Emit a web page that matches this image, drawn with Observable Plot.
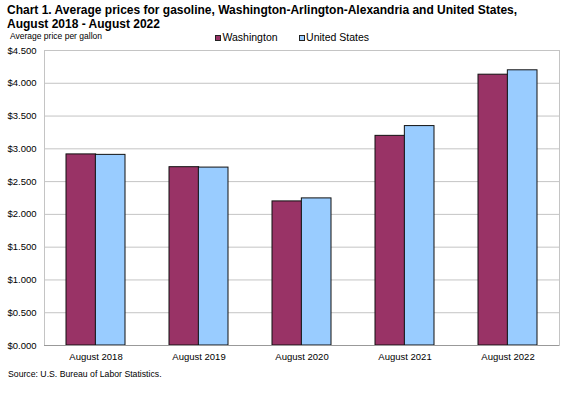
<!DOCTYPE html>
<html>
<head>
<meta charset="utf-8">
<script src="https://cdn.jsdelivr.net/npm/d3@7"></script>
<script src="https://cdn.jsdelivr.net/npm/@observablehq/plot@0.6"></script>
<style>
  html, body { margin: 0; padding: 0; background: #fff; }
  #wrap { position: relative; width: 581px; height: 395px; overflow: hidden; font-family: "Liberation Sans", Arial, sans-serif; color: #000; }
  .abs { position: absolute; white-space: nowrap; }
  #title { left: 7px; top: 3px; font-size: 12px; font-weight: bold; line-height: 14px; }
  #ylab { left: 10px; top: 31px; font-size: 8.5px; line-height: 10px; }
  #legend { left: 215px; top: 31px; font-size: 10.5px; line-height: 13px; display: flex; }
  .item { display: flex; align-items: center; }
  .sw { width: 4px; height: 4px; border: 1px solid #222; margin-right: 1.5px; }
  #chart { left: 0; top: 40px; }
  #source { left: 8px; top: 369px; font-size: 8.7px; line-height: 11px; }
</style>
</head>
<body>
<div id="wrap">
  <div id="title" class="abs">Chart 1. Average prices for gasoline, Washington-Arlington-Alexandria and United States,<br>August 2018 - August 2022</div>
  <div id="ylab" class="abs">Average price per gallon</div>
  <div id="legend" class="abs"></div>
  <div id="chart" class="abs"></div>
  <div id="source" class="abs">Source: U.S. Bureau of Labor Statistics.</div>
</div>
<script>
const categories = ["August 2018", "August 2019", "August 2020", "August 2021", "August 2022"];
const washington = [2.915, 2.720, 2.198, 3.198, 4.131];
const unitedStates = [2.908, 2.714, 2.244, 3.347, 4.198];
const seriesNames = ["Washington", "United States"];
const seriesColors = ["#993366", "#99ccff"];
const yTicks = [0, 0.5, 1, 1.5, 2, 2.5, 3, 3.5, 4, 4.5];

const data = categories.map((c, i) => ({category: c, washington: washington[i], us: unitedStates[i]}));

const W = 581, H = 330, ML = 44, MR = 22, MT = 10, MB = 25;
const paddingInner = 0.43, paddingOuter = 0.215;
const step = (W - ML - MR) / (categories.length - paddingInner + 2 * paddingOuter);
const half = step * (1 - paddingInner) / 2;

const legend = document.getElementById("legend");
seriesNames.forEach((name, i) => {
  const it = document.createElement("div");
  it.className = "item";
  it.style.marginRight = i === 0 ? "21px" : "0";
  const sw = document.createElement("span");
  sw.className = "sw";
  sw.style.background = seriesColors[i];
  const tx = document.createElement("span");
  tx.textContent = name;
  it.appendChild(sw); it.appendChild(tx);
  legend.appendChild(it);
});

const chart = Plot.plot({
  width: W, height: H,
  marginLeft: ML, marginRight: MR, marginTop: MT, marginBottom: MB,
  style: {fontFamily: "'Liberation Sans', Arial, sans-serif", fontSize: "9.5px", color: "#000", background: "transparent", overflow: "visible"},
  x: {domain: categories, paddingInner, paddingOuter, label: null, tickSize: 0, tickPadding: 8},
  y: {domain: [0, 4.5], ticks: yTicks, tickFormat: d3.format("$.3f"), label: null, tickSize: 0, tickPadding: 8},
  marks: [
    Plot.ruleY(yTicks.slice(1), {stroke: "#c4c4c4", strokeWidth: 1}),
    Plot.frame({stroke: "#c4c4c4"}),
    Plot.barY(data, {x: "category", y: "washington", fill: seriesColors[0], stroke: "#111", strokeWidth: 1, insetRight: half}),
    Plot.barY(data, {x: "category", y: "us", fill: seriesColors[1], stroke: "#111", strokeWidth: 1, insetLeft: half}),
    Plot.ruleY([0], {stroke: "#999"})
  ]
});
document.getElementById("chart").appendChild(chart);
</script>
</body>
</html>
